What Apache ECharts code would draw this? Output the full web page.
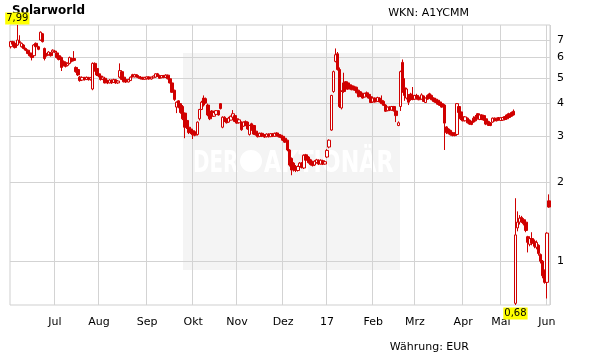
<!DOCTYPE html>
<html>
<head>
<meta charset="utf-8">
<title>Solarworld</title>
<script src="https://cdn.jsdelivr.net/npm/echarts@6/dist/echarts.min.js"></script>
<style>
    html, body { margin: 0; padding: 0; background: #fff; }
    #main { width: 611px; height: 364px; }
</style>
</head>
<body>
<div id="main"></div>
<script type="text/javascript">
    // Tageskerzen je Handelstag: [Eröffnung, Schluss, Tief, Hoch] in EUR
    var kurse = [
        [6.60,6.90,6.50,6.95],[6.90,6.75,6.65,6.95],[6.80,6.55,6.50,6.85],[6.70,7.00,6.65,7.99],[6.90,6.85,6.80,7.30],
        [6.60,6.80,6.55,6.85],[6.70,6.50,6.45,6.75],[6.50,6.40,6.35,6.55],[6.40,6.22,6.18,6.45],[6.25,6.10,6.05,6.30],
        [6.20,6.00,5.85,6.25],[6.10,6.70,6.05,6.75],[6.80,6.60,6.55,6.85],[6.60,6.45,6.40,6.65],[7.00,7.50,6.95,7.55],
        [7.40,6.90,6.85,7.45],[6.50,5.95,5.85,6.55],[6.20,6.10,6.05,6.25],[6.15,6.30,6.10,6.35],[6.25,6.10,6.05,6.30],
        [6.30,6.40,6.25,6.45],[6.35,6.30,6.25,6.40],[6.25,6.00,5.95,6.30],[6.10,5.90,5.85,6.15],[6.00,5.50,5.33,6.05],
        [5.80,5.60,5.55,5.85],[5.75,5.55,5.50,5.80],[5.60,5.70,5.55,5.75],[5.70,6.00,5.65,6.05],[5.95,5.80,5.75,6.00],
        [5.95,5.85,5.80,6.35],[5.50,5.30,5.25,5.55],[5.40,5.15,5.10,5.45],[5.05,4.90,4.85,5.10],[4.92,5.04,4.88,5.08],
        [5.04,4.94,4.90,5.06],[4.95,5.04,4.92,5.08],[5.04,4.94,4.90,5.06],[4.94,5.02,4.90,5.06],[4.55,5.70,4.50,5.75],
        [5.70,5.35,5.30,5.75],[5.45,5.15,5.10,5.50],[5.20,5.10,5.05,5.25],[5.10,4.95,4.90,5.15],[4.96,5.05,4.92,5.08],
        [5.00,4.80,4.78,5.05],[4.90,4.80,4.75,4.94],[4.80,4.92,4.78,4.96],[4.92,4.80,4.76,4.95],[4.82,4.94,4.80,4.98],
        [4.94,4.80,4.76,4.96],[4.80,4.88,4.76,4.92],[5.05,5.35,5.00,5.70],[5.30,4.95,4.92,5.35],[5.05,4.85,4.82,5.10],
        [4.95,4.84,4.80,5.00],[4.84,4.94,4.82,4.98],[4.90,5.05,4.88,5.08],[5.16,5.06,5.04,5.20],[5.06,5.16,5.04,5.20],
        [5.16,5.06,5.03,5.18],[5.08,5.02,4.98,5.14],[5.04,4.98,4.95,5.10],[5.04,4.96,4.94,5.06],[4.96,5.04,4.94,5.06],
        [4.98,5.06,4.95,5.08],[5.06,4.97,4.94,5.08],[4.97,5.05,4.94,5.07],[5.02,5.10,5.00,5.12],[5.05,5.20,5.02,5.22],
        [5.20,5.10,5.06,5.24],[5.12,5.00,4.98,5.16],[5.02,5.12,5.00,5.14],[5.12,5.04,5.00,5.15],[5.04,5.14,5.02,5.18],
        [5.14,4.98,4.95,5.16],[4.98,4.80,4.78,5.00],[4.80,4.42,4.40,4.82],[4.50,4.15,4.10,4.52],[3.88,4.05,3.68,4.08],
        [4.10,3.88,3.84,4.12],[4.00,3.70,3.66,4.02],[3.90,3.50,3.46,3.95],[3.68,3.25,2.95,3.70],[3.45,3.25,3.20,3.48],
        [3.25,3.10,3.06,3.28],[3.20,3.10,3.06,3.24],[3.15,3.04,2.93,3.18],[3.12,3.03,3.00,3.15],[3.05,3.40,3.02,3.42],
        [3.50,3.80,3.45,3.82],[3.80,4.05,3.78,4.10],[4.20,3.95,3.90,4.30],[4.18,4.02,4.00,4.22],[3.95,3.62,3.58,4.00],
        [3.70,3.50,3.46,3.72],[3.75,3.58,3.55,3.78],[3.58,3.70,3.56,3.72],[3.64,3.76,3.60,3.78],[3.76,3.62,3.60,3.78],
        [4.00,3.83,3.80,4.02],[3.25,3.55,3.22,3.58],[3.55,3.42,3.40,3.58],[3.50,3.38,3.36,3.52],[3.40,3.52,3.38,3.56],
        [3.46,3.58,3.45,3.60],[3.55,3.66,3.50,3.78],[3.60,3.42,3.40,3.62],[3.50,3.37,3.35,3.52],[3.38,3.47,3.36,3.50],
        [3.40,3.18,3.15,3.42],[3.28,3.40,3.26,3.42],[3.42,3.30,3.28,3.45],[3.40,3.20,3.18,3.42],[3.05,3.30,3.02,3.32],
        [3.35,3.18,3.15,3.38],[3.30,3.06,3.04,3.32],[3.14,3.04,3.02,3.16],[3.08,2.99,2.97,3.10],[3.00,3.08,2.98,3.10],
        [3.08,3.00,2.98,3.10],[3.04,2.98,2.96,3.06],[2.99,3.06,2.97,3.08],[3.06,2.99,2.97,3.08],[2.99,3.07,2.98,3.09],
        [3.07,3.00,2.98,3.09],[3.00,3.08,2.99,3.10],[3.09,3.02,3.00,3.11],[3.05,2.99,2.97,3.07],[3.03,2.97,2.95,3.04],
        [3.00,2.90,2.88,3.01],[2.95,2.85,2.83,2.96],[2.90,2.66,2.63,2.91],[2.66,2.33,2.30,2.68],[2.47,2.23,2.13,2.49],
        [2.37,2.23,2.20,2.39],[2.30,2.22,2.19,2.33],[2.22,2.30,2.20,2.32],[2.30,2.37,2.28,2.39],[2.37,2.28,2.26,2.39],
        [2.27,2.54,2.25,2.56],[2.55,2.43,2.40,2.57],[2.50,2.38,2.36,2.52],[2.44,2.34,2.32,2.46],[2.40,2.32,2.30,2.42],
        [2.33,2.41,2.31,2.43],[2.38,2.44,2.36,2.46],[2.43,2.35,2.33,2.45],[2.35,2.43,2.34,2.45],[2.42,2.35,2.33,2.44],
        [2.35,2.40,2.34,2.42],[2.50,2.65,2.48,2.68],[2.73,2.90,2.70,2.92],[3.17,4.30,3.15,4.32],[4.45,5.30,4.40,5.35],
        [5.80,6.15,5.75,6.50],[6.20,5.40,5.35,6.30],[5.40,3.90,3.85,5.50],[3.85,4.45,3.80,4.50],[4.80,4.45,4.40,5.25],
        [4.85,4.55,4.50,4.88],[4.80,4.55,4.52,4.82],[4.72,4.56,4.54,4.78],[4.68,4.52,4.50,4.72],[4.64,4.50,4.48,4.68],
        [4.62,4.40,4.38,4.64],[4.50,4.25,4.23,4.52],[4.44,4.28,4.24,4.46],[4.38,4.20,4.18,4.40],[4.24,4.38,4.22,4.40],
        [4.40,4.26,4.24,4.45],[4.34,4.20,4.18,4.36],[4.25,4.04,4.02,4.28],[4.06,4.20,4.04,4.22],[4.20,4.06,4.04,4.22],
        [4.08,4.22,4.06,4.25],[4.20,4.06,4.04,4.23],[4.12,4.00,3.98,4.30],[4.08,3.94,3.92,4.12],[3.95,3.74,3.72,3.98],
        [3.76,3.88,3.74,3.90],[3.88,3.78,3.75,3.91],[3.78,3.90,3.76,3.92],[3.90,3.76,3.73,3.92],[3.75,3.60,3.40,3.78],
        [3.30,3.38,3.28,3.42],[3.90,5.30,3.75,5.35],[5.75,4.50,4.40,5.90],[4.60,4.30,4.10,5.00],[4.20,4.55,4.15,4.60],
        [4.30,4.05,3.95,4.35],[4.35,4.15,4.10,4.40],[4.30,4.15,4.12,4.63],[4.16,4.30,4.14,4.32],[4.30,4.18,4.15,4.36],
        [4.24,4.14,4.12,4.28],[4.16,4.32,4.14,4.38],[4.28,4.08,4.06,4.30],[4.04,4.20,4.02,4.22],[4.30,4.16,4.14,4.34],
        [4.36,4.20,4.17,4.40],[4.30,4.14,4.12,4.33],[4.20,4.08,4.05,4.23],[4.16,4.04,4.02,4.19],[4.12,3.98,3.96,4.14],
        [4.06,3.94,3.92,4.10],[4.00,3.88,3.86,4.04],[3.95,3.37,2.66,3.98],[3.26,3.10,3.06,3.28],[3.20,3.08,3.05,3.22],
        [3.16,3.04,3.02,3.18],[3.10,3.02,3.00,3.12],[3.09,3.02,3.00,3.11],[3.05,4.00,3.03,4.02],[3.90,3.70,3.66,3.95],
        [3.72,3.50,3.46,3.75],[3.56,3.44,3.42,3.58],[3.44,3.56,3.42,3.58],[3.52,3.38,3.36,3.54],[3.46,3.34,3.32,3.48],
        [3.42,3.33,3.31,3.44],[3.52,3.40,3.38,3.58],[3.56,3.44,3.42,3.62],[3.66,3.50,3.48,3.68],[3.48,3.62,3.46,3.64],
        [3.62,3.48,3.46,3.64],[3.60,3.46,3.44,3.62],[3.50,3.34,3.31,3.52],[3.42,3.30,3.29,3.44],[3.38,3.30,3.28,3.40],
        [3.40,3.52,3.38,3.54],[3.52,3.44,3.42,3.54],[3.52,3.44,3.42,3.53],[3.54,3.46,3.44,3.55],[3.45,3.53,3.44,3.55],
        [3.46,3.54,3.45,3.56],[3.57,3.48,3.46,3.58],[3.62,3.50,3.48,3.64],[3.66,3.54,3.52,3.69],[3.70,3.58,3.56,3.73],
        [3.74,3.62,3.60,3.80],[0.69,1.26,0.68,1.74],[1.34,1.41,1.30,1.55],[1.41,1.46,1.38,1.50],[1.47,1.42,1.40,1.49],
        [1.44,1.39,1.37,1.46],[1.41,1.31,1.29,1.42],[1.24,1.18,1.08,1.25],[1.16,1.22,1.14,1.24],[1.22,1.17,1.15,1.29],
        [1.19,1.14,1.12,1.21],[1.13,1.18,1.11,1.20],[1.15,1.07,1.05,1.16],[1.06,1.00,0.98,1.07],[1.00,0.88,0.86,1.01],
        [0.92,0.83,0.82,0.93],[0.83,1.28,0.72,1.29],[1.70,1.61,1.60,1.80]
    ];
    var monate = ['Jan','Feb','Mrz','Apr','Mai','Jun','Jul','Aug','Sep','Okt','Nov','Dez'];
    var yTicks = [1, 2, 3, 4, 5, 6, 7];
    var feiertage = ['2016-12-26', '2017-04-14', '2017-04-17', '2017-05-01'];
    var yMin = 0.68, yMax = 7.99;
    var rot = '#d00000';

    function lg(v) { return Math.log(v) / Math.LN10; }
    function zwei(n) { return (n < 10 ? '0' : '') + n; }

    // Handelstage ab 02.06.2016 (ohne Wochenende und Börsenfeiertage)
    var tage = [];
    var d = new Date(Date.UTC(2016, 5, 2));
    while (tage.length < kurse.length) {
        var s = d.getUTCFullYear() + '-' + zwei(d.getUTCMonth() + 1) + '-' + zwei(d.getUTCDate());
        var wt = d.getUTCDay();
        if (wt !== 0 && wt !== 6 && feiertage.indexOf(s) < 0) tage.push(s);
        d.setUTCDate(d.getUTCDate() + 1);
    }

    function monatsAnfang(idx) {
        return idx > 0 && tage[idx].substr(5, 2) !== tage[idx - 1].substr(5, 2);
    }

    // log. Skala: Werte als log10 an eine lineare Achse
    var daten = kurse.map(function (k) { return k.map(lg); });
    var iMax = 0, iMin = 0;
    kurse.forEach(function (k, i) {
        if (k[3] > kurse[iMax][3]) iMax = i;
        if (k[2] < kurse[iMin][2]) iMin = i;
    });
    function komma(v) { return v.toFixed(2).replace('.', ','); }

    var myChart = echarts.init(document.getElementById('main'));
    var option = {
        animation: false,
        backgroundColor: '#fff',
        textStyle: { fontFamily: 'DejaVu Sans' },
        grid: {
            left: 10, right: 61, top: 25, bottom: 59,
            show: true, borderColor: '#cfcfcf', borderWidth: 1,
            outerBoundsMode: 'none'
        },
        graphic: [
            { type: 'rect', z: -1, shape: { x: 183, y: 53, width: 217, height: 217 }, style: { fill: '#f4f4f4' } },
            { type: 'text', z: -1, x: 193, y: 149, scaleX: 0.66, style: { text: 'DER', font: 'bold 30px "DejaVu Sans"', fill: '#fff' } },
            { type: 'circle', z: -1, shape: { cx: 251, cy: 161, r: 11 }, style: { fill: '#fff' } },
            { type: 'text', z: -1, x: 264, y: 149, scaleX: 0.74, style: { text: 'AKTIONÄR', font: 'bold 30px "DejaVu Sans"', fill: '#fff' } },
            { type: 'text', x: 12, y: 5, style: { text: 'Solarworld', font: 'bold 12px "DejaVu Sans"', fill: '#000' } },
            { type: 'text', x: 469, y: 8, style: { text: 'WKN: A1YCMM', font: '11px "DejaVu Sans"', fill: '#000', align: 'right' } },
            { type: 'text', x: 469, y: 342, style: { text: 'Währung: EUR', font: '11px "DejaVu Sans"', fill: '#000', align: 'right' } }
        ],
        xAxis: {
            type: 'category',
            data: tage,
            boundaryGap: true,
            axisLine: { show: false },
            axisTick: { show: false },
            axisLabel: {
                interval: function (idx) { return monatsAnfang(idx); },
                formatter: function (val) {
                    var m = parseInt(val.substr(5, 2), 10);
                    return m === 1 ? val.substr(2, 2) : monate[m - 1];
                },
                color: '#000', fontSize: 11, margin: 12
            },
            splitLine: {
                show: true,
                interval: function (idx) { return monatsAnfang(idx); },
                lineStyle: { color: '#d3d3d3' }
            }
        },
        yAxis: {
            type: 'value',
            position: 'right',
            min: lg(yMin),
            max: lg(yMax),
            axisLine: { show: false },
            axisTick: { show: false, customValues: yTicks.map(lg) },
            axisLabel: {
                customValues: yTicks.map(lg),
                formatter: function (v) { return String(Math.round(Math.pow(10, v))); },
                color: '#000', fontSize: 11, margin: 7
            },
            splitLine: { show: true, lineStyle: { color: '#d3d3d3' } }
        },
        series: [{
            name: 'Solarworld',
            type: 'candlestick',
            data: daten,
            barWidth: 3,
            itemStyle: {
                color: '#fff', color0: rot,
                borderColor: rot, borderColor0: rot,
                borderWidth: 1
            },
            markPoint: {
                symbol: 'rect',
                symbolSize: 1,
                itemStyle: { color: 'rgba(0,0,0,0)' },
                label: {
                    show: true,
                    formatter: function (p) { return p.name; },
                    backgroundColor: '#ffff00',
                    color: '#000',
                    fontSize: 10,
                    lineHeight: 12,
                    padding: [0, 1, 0, 1]
                },
                data: [
                    { name: komma(kurse[iMax][3]), coord: [iMax, lg(kurse[iMax][3])], label: { position: 'top', distance: 0 } },
                    { name: komma(kurse[iMin][2]), coord: [iMin, lg(kurse[iMin][2])], label: { position: 'bottom', distance: 2 } }
                ]
            }
        }]
    };
    myChart.setOption(option);
</script>
</body>
</html>
